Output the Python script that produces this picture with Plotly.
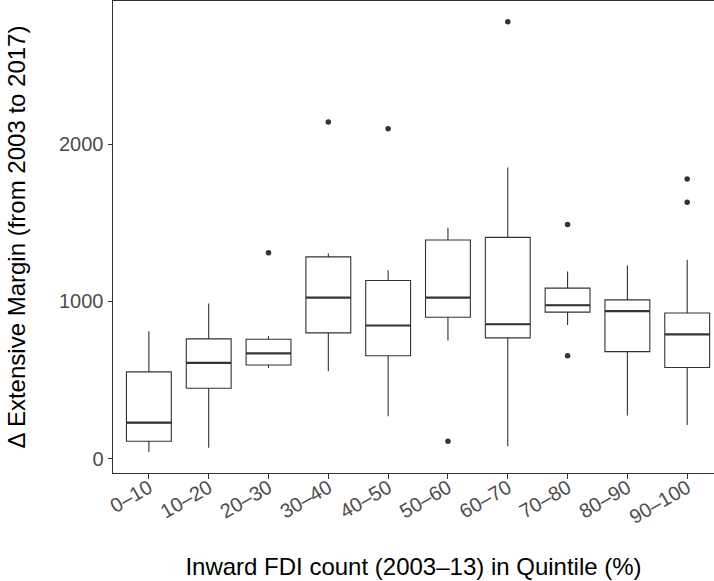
import plotly.graph_objects as go

# Quintile bins of inward FDI count
categories = ["0–10", "10–20", "20–30", "30–40", "40–50",
              "50–60", "60–70", "70–80", "80–90", "90–100"]

# Box summary statistics of the change in the extensive margin
lower_whisker = [42, 68, 577, 556, 269, 752, 78, 851, 274, 214]
q1_values     = [110, 448, 596, 800, 654, 900, 768, 932, 681, 580]
medians       = [229, 609, 669, 1025, 847, 1025, 855, 976, 938, 790]
q3_values     = [552, 762, 760, 1284, 1134, 1391, 1408, 1085, 1010, 927]
upper_whisker = [811, 987, 779, 1306, 1199, 1469, 1853, 1191, 1229, 1265]

# Outlying observations per bin
outlier_bins   = ["20–30", "30–40", "40–50", "50–60", "60–70",
                  "70–80", "70–80", "90–100", "90–100"]
outlier_values = [1310, 2142, 2099, 110, 2781, 1490, 654, 1779, 1631]

tick_labels = ["0", "1000", "2000"]
tick_values = [0, 1000, 2000]

INK = "#333333"
GREY = "#4D4D4D"
FONT = "Liberation Sans, Arial, sans-serif"
BOX_WIDTH = 0.75

positions = list(range(len(categories)))

fig = go.Figure()

fig.add_trace(go.Box(
    x=positions,
    q1=q1_values,
    median=medians,
    q3=q3_values,
    lowerfence=lower_whisker,
    upperfence=upper_whisker,
    width=BOX_WIDTH,
    whiskerwidth=0,
    boxpoints=False,
    fillcolor="white",
    line=dict(color=INK, width=1.1),
    showlegend=False,
    hoverinfo="skip",
))

# Thicker median bars drawn on top of each box
med_x, med_y = [], []
for pos, med in zip(positions, medians):
    med_x += [pos - BOX_WIDTH / 2, pos + BOX_WIDTH / 2, None]
    med_y += [med, med, None]
fig.add_trace(go.Scatter(
    x=med_x, y=med_y, mode="lines",
    line=dict(color=INK, width=2.2),
    showlegend=False, hoverinfo="skip",
))

fig.add_trace(go.Scatter(
    x=[categories.index(c) for c in outlier_bins],
    y=outlier_values,
    mode="markers",
    marker=dict(color=INK, size=5.5),
    showlegend=False,
))

fig.update_layout(
    width=714,
    height=581,
    margin=dict(l=113, r=0, t=1, b=108),
    paper_bgcolor="white",
    plot_bgcolor="white",
    font=dict(family=FONT, color="black"),
    xaxis=dict(
        range=[-0.6, 9.448],
        tickmode="array",
        tickvals=positions,
        ticktext=categories,
        tickangle=-30,
        tickfont=dict(size=20, color=GREY, family=FONT),
        ticks="outside", ticklen=4.5, tickwidth=1, tickcolor=INK,
        ticklabelstandoff=-10,
        showgrid=False, zeroline=False,
        showline=True, linecolor=INK, linewidth=1, mirror=True,
        title=dict(text="Inward FDI count (2003–13) in Quintile (%)",
                   font=dict(size=24, color="black", family=FONT),
                   standoff=31),
    ),
    yaxis=dict(
        range=[-92, 2913],
        tickmode="array",
        tickvals=tick_values,
        ticktext=tick_labels,
        tickfont=dict(size=20, color=GREY, family=FONT),
        ticks="outside", ticklen=4.5, tickwidth=1, tickcolor=INK,
        showgrid=False, zeroline=False,
        showline=True, linecolor=INK, linewidth=1,
        title=dict(text="Δ Extensive Margin (from 2003 to 2017)",
                   font=dict(size=24, color="black", family=FONT),
                   standoff=26),
    ),
)

fig.write_html("out.html")
